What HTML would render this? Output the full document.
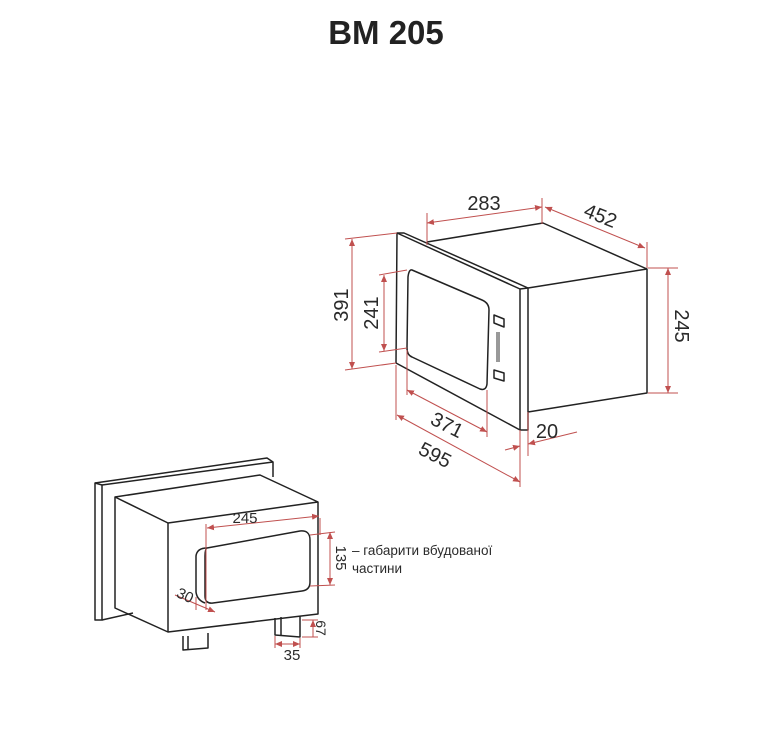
<!DOCTYPE html>
<html><head><meta charset="utf-8"><style>
html,body{margin:0;padding:0;background:#fff;}
svg{display:block;}
text{font-family:"Liberation Sans","DejaVu Sans",sans-serif;fill:#2a2a2a;}
</style></head><body>
<svg width="772" height="748" viewBox="0 0 772 748" xmlns="http://www.w3.org/2000/svg">
<defs>
<marker id="a" markerWidth="8" markerHeight="8" refX="7" refY="4" orient="auto-start-reverse" markerUnits="userSpaceOnUse">
<path d="M0,1 L7,4 L0,7 z" fill="#c0504f"/></marker>
</defs>
<text x="386" y="44" text-anchor="middle" font-size="33" font-weight="bold" style="fill:#222">BM 205</text>

<!-- top drawing -->
<g stroke="#222" stroke-width="1.5" fill="none" stroke-linejoin="round">
<polyline points="427,242 543,223 647,269 647,393 528,412"/>
<line x1="528" y1="288" x2="647" y2="269"/>
<polygon points="397,233 404,233 528,288 528,430 520,430 396,363"/>
<line x1="397" y1="233" x2="520" y2="289"/>
<line x1="520" y1="289" x2="520" y2="430"/>
<line x1="520" y1="289" x2="528" y2="288"/>
<path d="M412,270 L482,300 Q489,303 489,310 L487,384 Q486,391 480,389 L412,357 Q407,355 407,348 L408,277 Q409,269 412,270 Z"/>
<polygon points="494,315 504,319 504,327 494,323"/>
<polygon points="494,370 504,373 504,381 494,378"/>
</g>
<g fill="#999"><rect x="496" y="332" width="4" height="30"/></g>

<g stroke="#c0504f" stroke-width="1" fill="none">
<line x1="427" y1="213" x2="427" y2="245"/><line x1="542" y1="198" x2="542" y2="224"/>
<line x1="427" y1="223" x2="542" y2="207" marker-start="url(#a)" marker-end="url(#a)"/>
<line x1="545" y1="207" x2="645" y2="248" marker-start="url(#a)" marker-end="url(#a)"/>
<line x1="647" y1="242" x2="647" y2="268"/>
<line x1="648" y1="268" x2="678" y2="268"/><line x1="648" y1="393" x2="678" y2="393"/>
<line x1="668" y1="268" x2="668" y2="393" marker-start="url(#a)" marker-end="url(#a)"/>
<line x1="345" y1="239" x2="397" y2="233"/><line x1="345" y1="370" x2="396" y2="363"/>
<line x1="352" y1="239" x2="352" y2="369" marker-start="url(#a)" marker-end="url(#a)"/>
<line x1="379" y1="275" x2="407" y2="270"/><line x1="379" y1="352" x2="407" y2="348"/>
<line x1="384" y1="275" x2="384" y2="351" marker-start="url(#a)" marker-end="url(#a)"/>
<line x1="407" y1="350" x2="407" y2="395"/><line x1="487" y1="390" x2="487" y2="437"/>
<line x1="407" y1="390" x2="487" y2="432" marker-start="url(#a)" marker-end="url(#a)"/>
<line x1="396" y1="365" x2="396" y2="420"/><line x1="520" y1="430" x2="520" y2="487"/>
<line x1="397" y1="415" x2="520" y2="482" marker-start="url(#a)" marker-end="url(#a)"/>
<line x1="528" y1="412" x2="528" y2="456"/>
<line x1="505" y1="450" x2="520" y2="446" marker-end="url(#a)"/>
<line x1="577" y1="432" x2="528" y2="444" marker-end="url(#a)"/>
</g>
<text x="484" y="210" text-anchor="middle" font-size="20">283</text>
<text transform="translate(598,222) rotate(22)" text-anchor="middle" font-size="20">452</text>
<text transform="translate(348,305) rotate(-90)" text-anchor="middle" font-size="20">391</text>
<text transform="translate(378,313) rotate(-90)" text-anchor="middle" font-size="20">241</text>
<text transform="translate(675,326) rotate(90)" text-anchor="middle" font-size="20">245</text>
<text transform="translate(444,431) rotate(27)" text-anchor="middle" font-size="20">371</text>
<text transform="translate(432,461) rotate(27)" text-anchor="middle" font-size="20">595</text>
<text x="547" y="438" text-anchor="middle" font-size="20">20</text>

<!-- bottom drawing -->
<g stroke="#222" stroke-width="1.5" fill="none" stroke-linejoin="round">
<polyline points="95,483 267,458 273,462 273,477"/>
<polygon points="95,483 102,485 102,620 95,620"/>
<line x1="102" y1="485" x2="273" y2="462"/>
<line x1="102" y1="620" x2="133" y2="613"/>
<polygon points="115,497 260,475 318,502 318,614 168,632 115,608"/>
<polyline points="115,497 168,523 318,502"/>
<line x1="168" y1="523" x2="168" y2="632"/>
<path d="M207,548 L300,531 Q310,530 310,540 L310,582 Q310,590 302,591 L213,603 Q205,604 205,596 L205,556 Q205,549 207,548 Z"/>
<path d="M207,548 Q197,548 196,556 L196,592 Q197,600 205,603"/>
<polyline points="183,636 183,650 208,648 208,633"/>
<line x1="188" y1="636" x2="188" y2="650"/>
<polyline points="275,618 275,635 300,637 300,616"/>
<line x1="281" y1="617" x2="281" y2="636"/>
</g>
<g stroke="#c0504f" stroke-width="1" fill="none">
<line x1="206" y1="524" x2="206" y2="610"/><line x1="320" y1="518" x2="320" y2="535"/>
<line x1="207" y1="528" x2="319" y2="516" marker-start="url(#a)" marker-end="url(#a)"/>
<line x1="310" y1="535" x2="335" y2="532"/><line x1="310" y1="586" x2="335" y2="585"/>
<line x1="330" y1="532" x2="330" y2="585" marker-start="url(#a)" marker-end="url(#a)"/>
<line x1="175" y1="595" x2="215" y2="612" marker-end="url(#a)"/>
<line x1="196" y1="597" x2="196" y2="610"/>
<line x1="302" y1="620" x2="318" y2="620"/><line x1="302" y1="637" x2="318" y2="637"/>
<line x1="313" y1="620" x2="313" y2="637" marker-start="url(#a)"/>
<line x1="275" y1="636" x2="275" y2="648"/><line x1="300" y1="638" x2="300" y2="648"/>
<line x1="275" y1="644" x2="300" y2="644" marker-start="url(#a)" marker-end="url(#a)"/>
</g>
<text x="245" y="523" text-anchor="middle" font-size="15">245</text>
<text transform="translate(336,558) rotate(90)" text-anchor="middle" font-size="15">135</text>
<text transform="translate(183,600) rotate(25)" text-anchor="middle" font-size="15">30</text>
<text transform="translate(316,628) rotate(90)" text-anchor="middle" font-size="14">67</text>
<text x="292" y="660" text-anchor="middle" font-size="15">35</text>
<text x="352" y="555" font-size="13.5">– габарити вбудованої</text>
<text x="352" y="573" font-size="13.5">частини</text>
</svg>
</body></html>
